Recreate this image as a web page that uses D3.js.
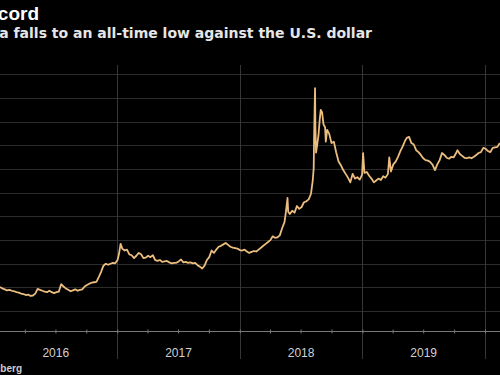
<!DOCTYPE html>
<html>
<head>
<meta charset="utf-8">
<script src="https://cdn.jsdelivr.net/npm/d3@7"></script>
<style>
  body { margin: 0; background: #000; overflow: hidden; }
  svg { display: block; }
</style>
</head>
<body>
<svg></svg>
<script>
// USD/TRY (weekly-ish)
var dates = [
  "2016-01-18","2016-01-25","2016-02-01","2016-02-08","2016-02-15","2016-02-22","2016-02-29","2016-03-07",
  "2016-03-14","2016-03-21","2016-03-28","2016-04-04","2016-04-11","2016-04-18","2016-04-25","2016-05-02",
  "2016-05-09","2016-05-16","2016-05-23","2016-05-30","2016-06-06","2016-06-13","2016-06-20","2016-06-27",
  "2016-07-04","2016-07-11","2016-07-18","2016-07-25","2016-08-01","2016-08-08","2016-08-15","2016-08-22",
  "2016-08-29","2016-09-05","2016-09-12","2016-09-19","2016-09-26","2016-10-03","2016-10-10","2016-10-17",
  "2016-10-24","2016-10-31","2016-11-07","2016-11-14","2016-11-21","2016-11-28","2016-12-05","2016-12-12",
  "2016-12-19","2016-12-26",
  "2017-01-02","2017-01-06","2017-01-11","2017-01-16","2017-01-23","2017-01-30","2017-02-06","2017-02-13",
  "2017-02-20","2017-02-27","2017-03-06","2017-03-13","2017-03-20","2017-03-27","2017-04-03","2017-04-10",
  "2017-04-17","2017-04-24","2017-05-01","2017-05-08","2017-05-15","2017-05-22","2017-05-29","2017-06-05",
  "2017-06-12","2017-06-19","2017-06-26","2017-07-03","2017-07-10","2017-07-17","2017-07-24","2017-07-31",
  "2017-08-07","2017-08-14","2017-08-21","2017-08-28","2017-09-04","2017-09-11","2017-09-18","2017-09-25",
  "2017-10-02","2017-10-09","2017-10-16","2017-10-23","2017-10-30","2017-11-06","2017-11-13","2017-11-20",
  "2017-11-27","2017-12-04","2017-12-11","2017-12-18","2017-12-25",
  "2018-01-01","2018-01-08","2018-01-15","2018-01-22","2018-01-29","2018-02-05","2018-02-12","2018-02-19",
  "2018-02-26","2018-03-05","2018-03-12","2018-03-19","2018-03-26","2018-04-02","2018-04-09","2018-04-16",
  "2018-04-23","2018-04-30","2018-05-07","2018-05-14","2018-05-18","2018-05-23","2018-05-25","2018-05-30",
  "2018-06-06","2018-06-13","2018-06-20","2018-06-27","2018-07-04","2018-07-11","2018-07-18","2018-07-25",
  "2018-08-01","2018-08-06","2018-08-09","2018-08-10","2018-08-13","2018-08-14","2018-08-16","2018-08-20",
  "2018-08-23","2018-08-27","2018-08-30","2018-09-03","2018-09-07","2018-09-12","2018-09-14","2018-09-18",
  "2018-09-24","2018-10-01","2018-10-08","2018-10-15","2018-10-22","2018-10-29","2018-11-05","2018-11-12",
  "2018-11-19","2018-11-26","2018-12-03","2018-12-10","2018-12-17","2018-12-24","2018-12-31",
  "2019-01-03","2019-01-07","2019-01-14","2019-01-21","2019-01-28","2019-02-04","2019-02-11","2019-02-18",
  "2019-02-25","2019-03-04","2019-03-11","2019-03-18","2019-03-22","2019-03-27","2019-04-03","2019-04-10",
  "2019-04-17","2019-04-24","2019-05-01","2019-05-08","2019-05-13","2019-05-20","2019-05-27","2019-06-03",
  "2019-06-10","2019-06-17","2019-06-24","2019-07-01","2019-07-08","2019-07-15","2019-07-22","2019-07-29",
  "2019-08-05","2019-08-12","2019-08-19","2019-08-26","2019-09-02","2019-09-09","2019-09-16","2019-09-23",
  "2019-09-30","2019-10-07","2019-10-11","2019-10-18","2019-10-25","2019-11-01","2019-11-08","2019-11-15",
  "2019-11-22","2019-11-29","2019-12-06","2019-12-13","2019-12-20","2019-12-27",
  "2020-01-03","2020-01-10","2020-01-17","2020-01-24","2020-01-31","2020-02-07","2020-02-14"
];
var rates = [
  3.01,2.98,2.96,2.94,2.95,2.93,2.92,2.90,
  2.89,2.87,2.86,2.84,2.85,2.82,2.83,2.87,
  2.97,2.95,2.93,2.91,2.90,2.93,2.90,2.88,
  2.90,2.91,3.07,3.02,2.98,2.95,2.92,2.94,
  2.96,2.93,2.95,2.96,3.02,3.05,3.08,3.10,
  3.11,3.12,3.22,3.33,3.46,3.50,3.48,3.50,
  3.52,3.51,
  3.58,3.70,3.92,3.82,3.78,3.80,3.70,3.68,
  3.62,3.67,3.73,3.70,3.62,3.63,3.67,3.64,
  3.68,3.58,3.56,3.58,3.54,3.55,3.56,3.53,
  3.51,3.52,3.52,3.55,3.59,3.53,3.54,3.52,
  3.53,3.51,3.52,3.47,3.44,3.40,3.46,3.58,
  3.64,3.78,3.73,3.80,3.86,3.88,3.91,3.94,
  3.90,3.86,3.84,3.83,3.82,
  3.79,3.78,3.80,3.76,3.73,3.75,3.77,3.76,
  3.80,3.84,3.88,3.92,3.96,4.00,4.08,4.05,
  4.06,4.10,4.25,4.38,4.58,4.89,4.60,4.55,
  4.62,4.58,4.72,4.66,4.70,4.80,4.82,4.86,
  4.98,5.25,5.52,6.10,7.21,6.40,5.85,6.05,
  6.20,6.55,6.75,6.70,6.45,6.38,6.08,6.33,
  6.25,6.05,6.08,5.85,5.66,5.58,5.48,5.40,
  5.32,5.22,5.40,5.30,5.33,5.28,5.38,
  5.84,5.42,5.44,5.36,5.30,5.22,5.26,5.30,
  5.27,5.35,5.32,5.40,5.75,5.45,5.60,5.66,
  5.76,5.88,5.98,6.10,6.16,6.18,6.05,6.02,
  5.90,5.86,5.80,5.73,5.69,5.68,5.65,5.59,
  5.48,5.60,5.69,5.84,5.80,5.74,5.72,5.76,
  5.75,5.84,5.90,5.82,5.78,5.74,5.73,5.75,
  5.73,5.76,5.80,5.84,5.86,5.95,
  5.93,5.88,5.86,5.95,5.96,5.97,6.05
];
var years = [2016, 2017, 2018, 2019, 2020];
var gridValues = [2.5, 3, 3.5, 4, 4.5, 5, 5.5, 6, 6.5, 7, 7.5];
var titleText = "Turkish Lira Hits Record";
var subtitleText = "Turkish lira falls to an all-time low against the U.S. dollar";
var sourceText = "Source: Bloomberg";

var screen = {width: 500, height: 375};
var plot = {top: 65, bottom: 331, axisEnd: 359};

var parse = d3.timeParse("%Y-%m-%d");
var points = dates.map(function(d, i){
    return {date: parse(d), rate: rates[i]};
});

var xScale = d3.scaleTime()
    .domain([new Date(2016, 0, 1), new Date(2020, 0, 1)])
    .range([-5.7, 485]);

var yScale = d3.scaleLinear()
    .domain([2.08, 7.7])
    .range([plot.bottom, plot.top]);

var svg = d3.select("svg")
    .attr("width", screen.width)
    .attr("height", screen.height);

svg.append("rect")
    .attr("width", screen.width)
    .attr("height", screen.height)
    .attr("fill", "#000");

// horizontal grid
svg.append("g")
    .selectAll("line")
    .data(gridValues)
    .enter()
    .append("line")
    .attr("x1", 0)
    .attr("x2", screen.width)
    .attr("y1", function(v){return Math.round(yScale(v)) + 0.5})
    .attr("y2", function(v){return Math.round(yScale(v)) + 0.5})
    .attr("stroke", "#2c2c2c")
    .attr("stroke-width", 1);

// year separators
var yearStarts = years.map(function(y){return new Date(y, 0, 1)});
svg.append("g")
    .selectAll("line")
    .data(yearStarts.slice(1))
    .enter()
    .append("line")
    .attr("x1", function(d){return Math.round(xScale(d)) + 0.5})
    .attr("x2", function(d){return Math.round(xScale(d)) + 0.5})
    .attr("y1", plot.top)
    .attr("y2", plot.axisEnd)
    .attr("stroke", "#363636")
    .attr("stroke-width", 1);

// bottom axis with quarter ticks
var xAxis = d3.axisBottom(xScale)
    .ticks(d3.timeMonth.every(3))
    .tickSize(2)
    .tickFormat("");
var axisG = svg.append("g")
    .attr("transform", "translate(0," + (plot.bottom + 0.5) + ")")
    .call(xAxis);
axisG.select(".domain").remove();
axisG.selectAll("line").attr("stroke", "#777").attr("y1", -2);
axisG.append("line")
    .attr("x1", 0)
    .attr("x2", screen.width)
    .attr("stroke", "#777")
    .attr("stroke-width", 1);

// year labels centred in each year
svg.append("g")
    .selectAll("text")
    .data(years)
    .enter()
    .append("text")
    .attr("x", function(y){return (xScale(new Date(y, 0, 1)) + xScale(new Date(y + 1, 0, 1))) / 2})
    .attr("y", 356.5)
    .attr("text-anchor", "middle")
    .attr("fill", "#d0d0d0")
    .attr("font-family", "Liberation Sans, Arial, sans-serif")
    .attr("font-size", 12)
    .text(function(y){return y});

// the rate line
var line = d3.line()
    .x(function(p){return xScale(p.date)})
    .y(function(p){return yScale(p.rate)});

svg.append("path")
    .datum(points)
    .attr("d", line)
    .attr("fill", "none")
    .attr("stroke", "#ebbd7e")
    .attr("stroke-width", 1.8)
    .attr("stroke-linejoin", "round");

// titles
svg.append("text")
    .attr("x", 39)
    .attr("y", 20)
    .attr("text-anchor", "end")
    .attr("fill", "#fff")
    .attr("font-family", "Liberation Sans, Arial, sans-serif")
    .attr("font-weight", "bold")
    .attr("font-size", 19)
    .text(titleText);

svg.append("text")
    .attr("x", 372)
    .attr("y", 38)
    .attr("text-anchor", "end")
    .attr("fill", "#e6e6e6")
    .attr("font-family", "DejaVu Sans, sans-serif")
    .attr("font-weight", "bold")
    .attr("font-size", 14)
    .text(subtitleText);

svg.append("text")
    .attr("x", 22)
    .attr("y", 372)
    .attr("text-anchor", "end")
    .attr("fill", "#cfcfcf")
    .attr("font-family", "Liberation Sans, Arial, sans-serif")
    .attr("font-weight", "bold")
    .attr("font-size", 10)
    .text(sourceText);
</script>
</body>
</html>
